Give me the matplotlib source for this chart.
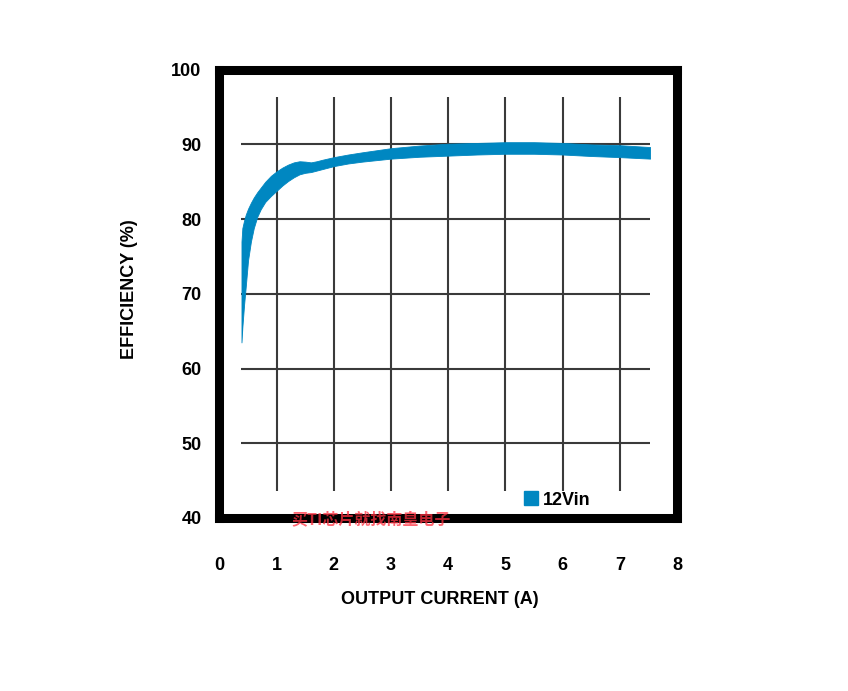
import matplotlib
matplotlib.use("Agg")
import matplotlib.pyplot as plt
from matplotlib.lines import Line2D

plt.rcParams['font.family'] = ['Liberation Sans', 'DejaVu Sans']
plt.rcParams['font.weight'] = 'bold'

# efficiency band (upper and lower edges of the thick trace)
current = [0.385, 0.40, 0.43, 0.46, 0.50, 0.55, 0.60, 0.66, 0.72, 0.80, 0.90,
           1.00, 1.10, 1.20, 1.30, 1.40, 1.50, 1.60, 1.70, 1.80, 2.00, 2.25,
           2.50, 3.00, 3.50, 4.00, 4.50, 5.00, 5.50, 6.00, 6.50, 7.00, 7.53]
eff_upper = [77.0, 78.8, 79.8, 80.6, 81.4, 82.2, 82.9, 83.6, 84.2, 85.0, 85.8,
             86.4, 86.9, 87.3, 87.6, 87.75, 87.7, 87.6, 87.75, 87.95, 88.3, 88.65,
             88.95, 89.5, 89.85, 90.1, 90.2, 90.3, 90.3, 90.2, 90.0, 89.9, 89.65]
eff_lower = [63.5, 65.5, 68.5, 71.0, 74.5, 77.0, 78.8, 80.3, 81.3, 82.3, 83.1,
             83.8, 84.5, 85.1, 85.6, 86.0, 86.2, 86.3, 86.5, 86.7, 87.1, 87.45,
             87.7, 88.1, 88.35, 88.5, 88.65, 88.75, 88.75, 88.65, 88.45, 88.3, 88.1]

x_ticks = [0, 1, 2, 3, 4, 5, 6, 7, 8]
y_ticks = [40, 50, 60, 70, 80, 90, 100]
grid_x = [1, 2, 3, 4, 5, 6, 7]
grid_y = [50, 60, 70, 80, 90]
series_name = '12Vin'
watermark = '买TI芯片就找南皇电子'

blue = '#0087c1'

fig = plt.figure(figsize=(8.48, 6.91), dpi=100)
ax = fig.add_axes([0.2588, 0.2504, 0.5395, 0.6487])
ax.set_xlim(0, 8)
ax.set_ylim(40, 100)

# grid lines stop short of the frame
ax.vlines(grid_x, 43.6, 96.4, color='#3a3a3a', lw=1.5, zorder=1)
ax.hlines(grid_y, 0.37, 7.53, color='#3a3a3a', lw=1.5, zorder=1)

ax.fill_between(current, eff_lower, eff_upper, color=blue, lw=0.6, ec=blue, zorder=2)

for s in ax.spines.values():
    s.set_linewidth(6.5)
    s.set_color('black')

ax.set_xticks(x_ticks)
ax.set_yticks(y_ticks)
ax.tick_params(axis='x', length=0, pad=28, labelsize=13)
ax.tick_params(axis='y', length=0, pad=13, labelsize=13)

ax.set_xlabel('OUTPUT CURRENT (A)', fontsize=13, fontweight='bold')
ax.xaxis.set_label_coords(0.482, -0.164)
ax.set_ylabel('EFFICIENCY (%)', fontsize=13, fontweight='bold')
ax.yaxis.set_label_coords(-0.177, 0.511)

handle = Line2D([], [], marker='s', linestyle='none', color=blue, markersize=9.5)
ax.legend([handle], [series_name], loc='center left', bbox_to_anchor=(0.666, 0.040),
          frameon=False, fontsize=13, borderpad=0, borderaxespad=0,
          handlelength=0.8, handletextpad=0.25)

fig.text(0.4375, 0.2489, watermark, ha='center', va='center', fontsize=11.5,
         fontweight='bold', color='#ff3040', alpha=0.75, zorder=10,
         family=['Noto Sans CJK SC', 'DejaVu Sans'])

fig.savefig('out.png', dpi=100)
